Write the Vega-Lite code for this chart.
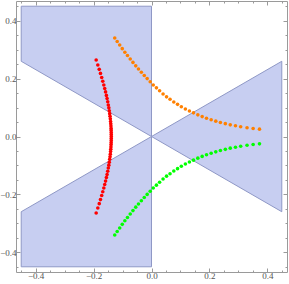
{
  "$schema": "https://vega.github.io/schema/vega-lite/v6.json",
  "width": 271,
  "height": 271,
  "autosize": "none",
  "padding": {"left": 16, "top": 1, "right": 2, "bottom": 12},
  "config": {
    "view": {"stroke": "#9a9a9a", "strokeWidth": 1},
    "axis": {
      "domain": false,
      "grid": false,
      "title": null,
      "tickColor": "#9a9a9a",
      "labelColor": "#555555",
      "labelFont": "Liberation Serif",
      "labelFontSize": 9
    }
  },
  "datasets": {
    "regions": [
      {"region": "A", "x": -0.45, "y": 0.45, "y2": 0.2598},
      {"region": "A", "x": 0, "y": 0.45, "y2": 0},
      {"region": "B", "x": 0, "y": 0, "y2": 0},
      {"region": "B", "x": 0.45, "y": 0.2598, "y2": -0.2598},
      {"region": "C", "x": -0.45, "y": -0.2598, "y2": -0.45},
      {"region": "C", "x": 0, "y": 0, "y2": -0.45}
    ],
    "pts": [
      {"s": "red", "x": -0.1911, "y": 0.264},
      {"s": "red", "x": -0.1854, "y": 0.247},
      {"s": "red", "x": -0.1805, "y": 0.232},
      {"s": "red", "x": -0.1762, "y": 0.218},
      {"s": "red", "x": -0.172, "y": 0.204},
      {"s": "red", "x": -0.1683, "y": 0.191},
      {"s": "red", "x": -0.1647, "y": 0.178},
      {"s": "red", "x": -0.1616, "y": 0.166},
      {"s": "red", "x": -0.1586, "y": 0.154},
      {"s": "red", "x": -0.1558, "y": 0.142},
      {"s": "red", "x": -0.1534, "y": 0.131},
      {"s": "red", "x": -0.1512, "y": 0.12},
      {"s": "red", "x": -0.1491, "y": 0.109},
      {"s": "red", "x": -0.1474, "y": 0.099},
      {"s": "red", "x": -0.1458, "y": 0.089},
      {"s": "red", "x": -0.1444, "y": 0.079},
      {"s": "red", "x": -0.1432, "y": 0.07},
      {"s": "red", "x": -0.1422, "y": 0.061},
      {"s": "red", "x": -0.1413, "y": 0.052},
      {"s": "red", "x": -0.1406, "y": 0.044},
      {"s": "red", "x": -0.1401, "y": 0.036},
      {"s": "red", "x": -0.1396, "y": 0.028},
      {"s": "red", "x": -0.1393, "y": 0.021},
      {"s": "red", "x": -0.1391, "y": 0.014},
      {"s": "red", "x": -0.139, "y": 0.007},
      {"s": "red", "x": -0.1389, "y": 0},
      {"s": "red", "x": -0.139, "y": -0.007},
      {"s": "red", "x": -0.1391, "y": -0.014},
      {"s": "red", "x": -0.1393, "y": -0.021},
      {"s": "red", "x": -0.1396, "y": -0.028},
      {"s": "red", "x": -0.1401, "y": -0.036},
      {"s": "red", "x": -0.1406, "y": -0.044},
      {"s": "red", "x": -0.1413, "y": -0.052},
      {"s": "red", "x": -0.1422, "y": -0.061},
      {"s": "red", "x": -0.1432, "y": -0.07},
      {"s": "red", "x": -0.1444, "y": -0.079},
      {"s": "red", "x": -0.1458, "y": -0.089},
      {"s": "red", "x": -0.1474, "y": -0.099},
      {"s": "red", "x": -0.1491, "y": -0.109},
      {"s": "red", "x": -0.1512, "y": -0.12},
      {"s": "red", "x": -0.1534, "y": -0.131},
      {"s": "red", "x": -0.1558, "y": -0.142},
      {"s": "red", "x": -0.1586, "y": -0.154},
      {"s": "red", "x": -0.1616, "y": -0.166},
      {"s": "red", "x": -0.1647, "y": -0.178},
      {"s": "red", "x": -0.1683, "y": -0.191},
      {"s": "red", "x": -0.172, "y": -0.204},
      {"s": "red", "x": -0.1762, "y": -0.218},
      {"s": "red", "x": -0.1805, "y": -0.232},
      {"s": "red", "x": -0.1854, "y": -0.247},
      {"s": "red", "x": -0.1911, "y": -0.264},
      {"s": "orange", "x": -0.127, "y": 0.34},
      {"s": "orange", "x": -0.1185, "y": 0.328},
      {"s": "orange", "x": -0.1098, "y": 0.316},
      {"s": "orange", "x": -0.101, "y": 0.3035},
      {"s": "orange", "x": -0.092, "y": 0.291},
      {"s": "orange", "x": -0.083, "y": 0.28},
      {"s": "orange", "x": -0.0735, "y": 0.2675},
      {"s": "orange", "x": -0.064, "y": 0.256},
      {"s": "orange", "x": -0.0545, "y": 0.244},
      {"s": "orange", "x": -0.045, "y": 0.233},
      {"s": "orange", "x": -0.035, "y": 0.222},
      {"s": "orange", "x": -0.025, "y": 0.2105},
      {"s": "orange", "x": -0.015, "y": 0.2},
      {"s": "orange", "x": -0.0045, "y": 0.189},
      {"s": "orange", "x": 0.006, "y": 0.178},
      {"s": "orange", "x": 0.017, "y": 0.168},
      {"s": "orange", "x": 0.028, "y": 0.158},
      {"s": "orange", "x": 0.04, "y": 0.147},
      {"s": "orange", "x": 0.052, "y": 0.137},
      {"s": "orange", "x": 0.064, "y": 0.1285},
      {"s": "orange", "x": 0.077, "y": 0.119},
      {"s": "orange", "x": 0.09, "y": 0.111},
      {"s": "orange", "x": 0.103, "y": 0.103},
      {"s": "orange", "x": 0.117, "y": 0.0952},
      {"s": "orange", "x": 0.131, "y": 0.088},
      {"s": "orange", "x": 0.145, "y": 0.0816},
      {"s": "orange", "x": 0.16, "y": 0.0748},
      {"s": "orange", "x": 0.175, "y": 0.0688},
      {"s": "orange", "x": 0.19, "y": 0.0631},
      {"s": "orange", "x": 0.206, "y": 0.0579},
      {"s": "orange", "x": 0.222, "y": 0.053},
      {"s": "orange", "x": 0.238, "y": 0.0484},
      {"s": "orange", "x": 0.255, "y": 0.0443},
      {"s": "orange", "x": 0.272, "y": 0.0403},
      {"s": "orange", "x": 0.29, "y": 0.0369},
      {"s": "orange", "x": 0.308, "y": 0.0338},
      {"s": "orange", "x": 0.33, "y": 0.0303},
      {"s": "orange", "x": 0.351, "y": 0.0278},
      {"s": "orange", "x": 0.373, "y": 0.0253},
      {"s": "green", "x": -0.127, "y": -0.34},
      {"s": "green", "x": -0.1185, "y": -0.328},
      {"s": "green", "x": -0.1098, "y": -0.316},
      {"s": "green", "x": -0.101, "y": -0.3035},
      {"s": "green", "x": -0.092, "y": -0.291},
      {"s": "green", "x": -0.083, "y": -0.28},
      {"s": "green", "x": -0.0735, "y": -0.2675},
      {"s": "green", "x": -0.064, "y": -0.256},
      {"s": "green", "x": -0.0545, "y": -0.244},
      {"s": "green", "x": -0.045, "y": -0.233},
      {"s": "green", "x": -0.035, "y": -0.222},
      {"s": "green", "x": -0.025, "y": -0.2105},
      {"s": "green", "x": -0.015, "y": -0.2},
      {"s": "green", "x": -0.0045, "y": -0.189},
      {"s": "green", "x": 0.006, "y": -0.178},
      {"s": "green", "x": 0.017, "y": -0.168},
      {"s": "green", "x": 0.028, "y": -0.158},
      {"s": "green", "x": 0.04, "y": -0.147},
      {"s": "green", "x": 0.052, "y": -0.137},
      {"s": "green", "x": 0.064, "y": -0.1285},
      {"s": "green", "x": 0.077, "y": -0.119},
      {"s": "green", "x": 0.09, "y": -0.111},
      {"s": "green", "x": 0.103, "y": -0.103},
      {"s": "green", "x": 0.117, "y": -0.0952},
      {"s": "green", "x": 0.131, "y": -0.088},
      {"s": "green", "x": 0.145, "y": -0.0816},
      {"s": "green", "x": 0.16, "y": -0.0748},
      {"s": "green", "x": 0.175, "y": -0.0688},
      {"s": "green", "x": 0.19, "y": -0.0631},
      {"s": "green", "x": 0.206, "y": -0.0579},
      {"s": "green", "x": 0.222, "y": -0.053},
      {"s": "green", "x": 0.238, "y": -0.0484},
      {"s": "green", "x": 0.255, "y": -0.0443},
      {"s": "green", "x": 0.272, "y": -0.0403},
      {"s": "green", "x": 0.29, "y": -0.0369},
      {"s": "green", "x": 0.308, "y": -0.0338},
      {"s": "green", "x": 0.33, "y": -0.0303},
      {"s": "green", "x": 0.351, "y": -0.0278},
      {"s": "green", "x": 0.373, "y": -0.0253}
    ]
  },
  "resolve": {"axis": {"x": "independent", "y": "independent"}},
  "layer": [
    {
      "data": {"name": "regions"},
      "mark": {"type": "area", "fill": "#c7cef1", "fillOpacity": 1, "stroke": "#8f98c6", "strokeWidth": 1},
      "encoding": {
        "x": {"field": "x", "type": "quantitative",
              "scale": {"domain": [-0.468, 0.468], "nice": false, "zero": false},
              "axis": {"orient": "bottom", "values": [-0.4, -0.2, 0, 0.2, 0.4], "format": ".1f", "tickSize": -4, "labelPadding": 3}},
        "y": {"field": "y", "type": "quantitative",
              "scale": {"domain": [-0.468, 0.468], "nice": false, "zero": false},
              "axis": {"orient": "left", "values": [-0.4, -0.2, 0, 0.2, 0.4], "format": ".1f", "tickSize": -4, "labelPadding": 4}},
        "y2": {"field": "y2"},
        "detail": {"field": "region"}
      }
    },
    {
      "data": {"name": "pts"},
      "transform": [{"filter": "datum.s === 'red'"}],
      "mark": {"type": "circle", "color": "#ff0000", "size": 13, "opacity": 1},
      "encoding": {
        "x": {"field": "x", "type": "quantitative",
              "axis": {"orient": "bottom", "values": [-0.45, -0.35, -0.3, -0.25, -0.15, -0.1, -0.05, 0.05, 0.1, 0.15, 0.25, 0.3, 0.35, 0.45], "labels": false, "tickSize": -2}},
        "y": {"field": "y", "type": "quantitative",
              "axis": {"orient": "left", "values": [-0.45, -0.35, -0.3, -0.25, -0.15, -0.1, -0.05, 0.05, 0.1, 0.15, 0.25, 0.3, 0.35, 0.45], "labels": false, "tickSize": -2}}
      }
    },
    {
      "data": {"name": "pts"},
      "transform": [{"filter": "datum.s === 'orange'"}],
      "mark": {"type": "circle", "color": "#ff8000", "size": 13, "opacity": 1},
      "encoding": {
        "x": {"field": "x", "type": "quantitative",
              "axis": {"orient": "top", "values": [-0.4, -0.2, 0, 0.2, 0.4], "labels": false, "tickSize": -4}},
        "y": {"field": "y", "type": "quantitative",
              "axis": {"orient": "right", "values": [-0.4, -0.2, 0, 0.2, 0.4], "labels": false, "tickSize": -4}}
      }
    },
    {
      "data": {"name": "pts"},
      "transform": [{"filter": "datum.s === 'green'"}],
      "mark": {"type": "circle", "color": "#00ff00", "size": 13, "opacity": 1},
      "encoding": {
        "x": {"field": "x", "type": "quantitative",
              "axis": {"orient": "top", "values": [-0.45, -0.35, -0.3, -0.25, -0.15, -0.1, -0.05, 0.05, 0.1, 0.15, 0.25, 0.3, 0.35, 0.45], "labels": false, "tickSize": -2}},
        "y": {"field": "y", "type": "quantitative",
              "axis": {"orient": "right", "values": [-0.45, -0.35, -0.3, -0.25, -0.15, -0.1, -0.05, 0.05, 0.1, 0.15, 0.25, 0.3, 0.35, 0.45], "labels": false, "tickSize": -2}}
      }
    }
  ]
}
